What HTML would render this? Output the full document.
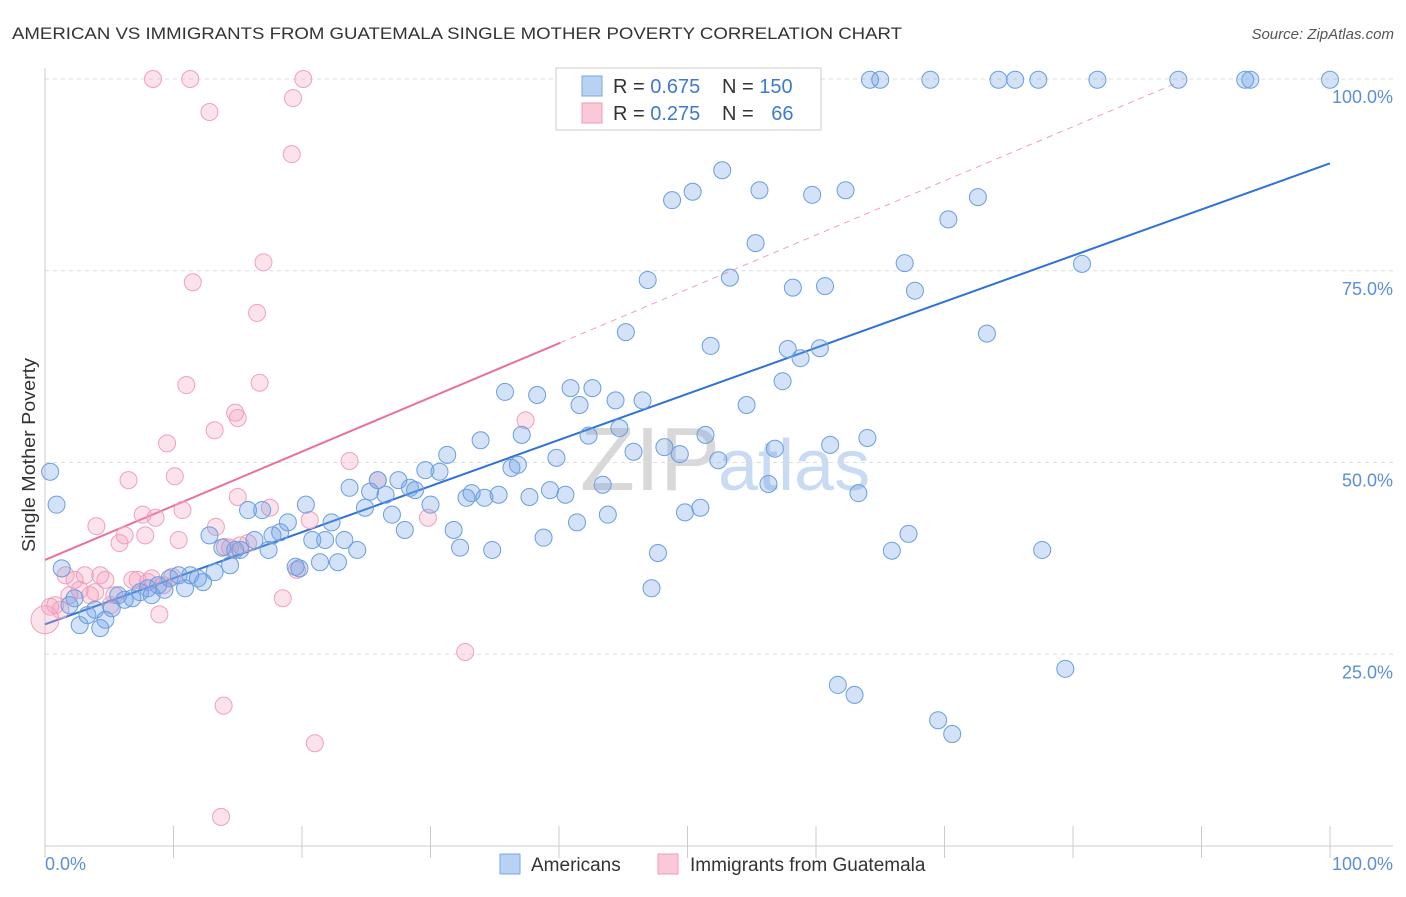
<!DOCTYPE html>
<html><head><meta charset="utf-8"><style>
body{margin:0;background:#fff;font-family:"Liberation Sans",sans-serif;}
svg text{font-family:"Liberation Sans",sans-serif;}
</style></head><body>
<svg id="chart" width="1406" height="892" xmlns="http://www.w3.org/2000/svg">
<text x="12" y="39" font-size="17" fill="#333" textLength="890" lengthAdjust="spacingAndGlyphs">AMERICAN VS IMMIGRANTS FROM GUATEMALA SINGLE MOTHER POVERTY CORRELATION CHART</text>
<text x="1394" y="39" font-size="15" fill="#555" font-style="italic" text-anchor="end">Source: ZipAtlas.com</text>
<text transform="translate(35,455) rotate(-90)" font-size="18" fill="#333" text-anchor="middle" textLength="194" lengthAdjust="spacingAndGlyphs">Single Mother Poverty</text>
<text x="720" y="490" font-size="90" fill="#d8d8d8" text-anchor="end" font-family="Liberation Serif">ZIP</text>
<text x="718" y="490" font-size="72" fill="#c9dbf2">atlas</text>
<g id="grid"></g><g id="axes"></g><g id="trend"></g><g id="pts"></g>
<g>
<rect x="556" y="68" width="265" height="62" fill="#fff" stroke="#ccc"/>
<rect x="582" y="76" width="20" height="20" fill="#b8d2f4" stroke="#7aa6e0"/>
<rect x="582" y="103" width="20" height="20" fill="#fbc8d8" stroke="#f09ab8"/>
<text x="613" y="93" font-size="20" fill="#333">R = <tspan fill="#3f7ad0">0.675</tspan></text>
<text x="722" y="93" font-size="20" fill="#333">N = <tspan fill="#3f7ad0">150</tspan></text>
<text x="613" y="120" font-size="20" fill="#333">R = <tspan fill="#3f7ad0">0.275</tspan></text>
<text x="722" y="120" font-size="20" fill="#333">N = <tspan fill="#3f7ad0" dx="12">66</tspan></text>
</g>
<g>
<rect x="500" y="854" width="20" height="20" fill="#b8d2f4" stroke="#7aa6e0"/>
<text x="531" y="871" font-size="19" fill="#333">Americans</text>
<rect x="658" y="854" width="20" height="20" fill="#fbc8d8" stroke="#f09ab8"/>
<text x="690" y="871" font-size="19" fill="#333">Immigrants from Guatemala</text>
</g>
</svg>
<script>
const blueX=[0.4,0.9,1.3,1.9,2.3,2.7,3.3,3.9,4.3,4.7,5.2,5.7,6.2,6.8,7.4,8.0,8.3,8.8,9.3,9.7,10.4,10.9,11.3,11.9,12.3,12.8,13.2,13.8,14.4,14.8,15.2,15.8,16.3,16.9,17.4,17.7,18.3,18.9,19.5,19.8,20.3,20.8,21.4,21.8,22.3,22.8,23.3,23.7,24.3,24.9,25.3,25.9,26.5,27.0,27.5,28.0,28.4,28.8,29.6,30.0,30.7,31.3,31.8,32.3,32.8,33.2,33.9,34.2,34.8,35.3,35.8,36.3,36.8,37.1,37.7,38.3,38.8,39.3,39.8,40.5,40.9,41.4,41.6,42.3,42.6,43.4,43.8,44.4,44.7,45.2,45.8,46.5,46.9,47.2,47.7,48.2,48.8,49.4,49.8,50.4,51.0,51.4,51.8,52.4,52.7,53.3,54.1,54.6,55.3,55.6,56.3,56.8,57.4,57.8,58.2,58.8,59.7,60.3,60.7,61.1,61.7,62.3,63.0,63.3,64.0,64.2,65.0,65.9,66.9,67.2,67.7,68.9,69.5,70.3,70.6,72.6,73.3,74.2,75.5,77.3,77.6,79.4,80.7,81.9,88.2,93.4,93.8,100];
const blueY=[48.8,44.5,36.2,31.4,32.3,28.8,30.1,30.8,28.4,29.5,31.0,32.7,32.1,32.3,33.1,33.6,32.7,34.0,33.4,34.9,35.3,33.6,35.3,34.9,34.4,40.5,35.7,38.9,36.6,38.6,38.6,43.8,39.9,43.8,38.6,40.5,40.9,42.2,36.4,36.2,44.5,39.9,37.0,39.9,42.2,37.0,39.9,46.7,38.6,44.1,46.2,47.7,45.8,43.2,47.7,41.2,46.7,46.4,49.0,44.5,48.8,51.0,41.2,38.9,45.4,46.0,52.9,45.4,38.6,45.8,59.2,49.3,49.7,53.6,45.5,58.8,40.2,46.4,50.6,45.8,59.7,42.2,57.5,53.5,59.7,47.1,43.2,58.1,54.5,67.0,51.4,58.1,73.8,33.6,38.2,52.0,84.2,51.1,43.5,85.3,44.1,53.6,65.2,50.3,88.1,74.1,99.9,57.5,78.6,85.5,47.2,51.8,60.6,64.8,72.8,63.6,84.9,64.9,73.0,52.3,21.0,85.5,19.7,46.0,53.2,99.9,99.9,38.5,76.0,40.7,72.4,99.9,16.4,81.7,14.6,84.6,66.8,99.9,99.9,99.9,38.6,23.1,75.9,99.9,99.9,99.9,99.9,99.9];
const pinkX=[0,0.4,0.8,1.2,1.6,1.9,2.3,2.7,3.1,3.5,3.9,4.0,4.3,4.7,5.1,5.4,5.8,6.2,6.5,6.8,7.2,7.6,7.8,8.0,8.3,8.6,8.9,9.2,9.5,9.9,10.1,10.4,10.7,11.0,11.3,11.5,12.8,13.2,13.3,13.9,13.7,14.0,14.4,14.8,15.0,15.0,15.2,15.8,16.5,16.7,17.0,17.5,18.5,19.2,19.3,19.6,20.1,20.6,21.0,23.7,25.9,29.8,32.7,37.4,8.4];
const pinkY=[29.5,31.2,31.4,30.8,35.3,32.7,34.7,33.4,35.3,32.7,33.1,41.7,35.3,34.7,31.4,32.7,39.5,40.5,47.7,34.7,34.7,43.2,40.5,34.4,34.9,42.8,30.2,34.0,52.5,35.1,48.2,39.9,43.8,60.1,100,73.5,95.7,54.2,41.6,18.3,3.8,39.0,38.9,56.5,55.8,45.5,39.2,39.5,69.5,60.4,76.1,44.1,32.3,90.2,97.5,36.0,100,42.5,13.4,50.2,47.7,42.8,25.3,55.5,100];
const yTicks=[25,50,75,100];
const xTickVals=[0,10,20,30,40,50,60,70,80,90,100];
const blueTrend=[28.9,89.0];
const pinkTrend=[37.3,0.706];
const NS="http://www.w3.org/2000/svg";
const X=v=>45+v*12.85, Y=v=>846-v*7.67;
function mk(tag,attrs,parent){const e=document.createElementNS(NS,tag);for(const k in attrs)e.setAttribute(k,attrs[k]);document.getElementById(parent).appendChild(e);return e;}
yTicks.forEach(t=>{
 const l=mk('line',{x1:45,x2:1393,y1:Y(t),y2:Y(t),stroke:'#ddd','stroke-dasharray':'4,4'},'grid');
 
 
 const tx=mk('text',{x:1393,y:Y(t)+24,'font-size':18,fill:'#5b8fd6','text-anchor':'end'},'grid');
 tx.textContent=t.toFixed(1)+'%';
 
 
});
let a=mk('line',{x1:45,x2:45,y1:68,y2:846,stroke:'#ccc'},'axes');


a=mk('line',{x1:45,x2:1393,y1:846,y2:846,stroke:'#ccc'},'axes');


xTickVals.forEach(t=>{const l=mk('line',{x1:X(t),x2:X(t),y1:826,y2:858,stroke:'#ccc'},'axes');
 
 });
let t0=mk('text',{x:45,y:870,'font-size':18,fill:'#5b8fd6'},'axes');t0.textContent='0.0%';


let t1=mk('text',{x:1393,y:870,'font-size':18,fill:'#5b8fd6','text-anchor':'end'},'axes');t1.textContent='100.0%';


pinkX.forEach((x,i)=>{const c=mk('circle',{cx:X(x),cy:Y(pinkY[i]),r:i==0?14:8.5,fill:'rgba(245,160,190,0.3)',stroke:'#f0a0bc','stroke-width':1},'pts');
 
 });
blueX.forEach((x,i)=>{const c=mk('circle',{cx:X(x),cy:Y(blueY[i]),r:8.5,fill:'rgba(110,160,230,0.3)',stroke:'#6a9ee0','stroke-width':1},'pts');
 
 });
let tb=mk('line',{x1:X(0),y1:Y(blueTrend[0]),x2:X(100),y2:Y(blueTrend[1]),stroke:'#2f72d6','stroke-width':2},'trend');


let tp=mk('line',{x1:X(0),y1:Y(pinkTrend[0]),x2:X(40.1),y2:Y(pinkTrend[0]+pinkTrend[1]*40.1),stroke:'#e8709a','stroke-width':2},'trend');


let td=mk('line',{x1:X(40.1),y1:Y(pinkTrend[0]+pinkTrend[1]*40.1),x2:X(88),y2:Y(pinkTrend[0]+pinkTrend[1]*88),stroke:'#f0a0bc','stroke-width':1,'stroke-dasharray':'6,5'},'trend');


</script>
</body></html>
